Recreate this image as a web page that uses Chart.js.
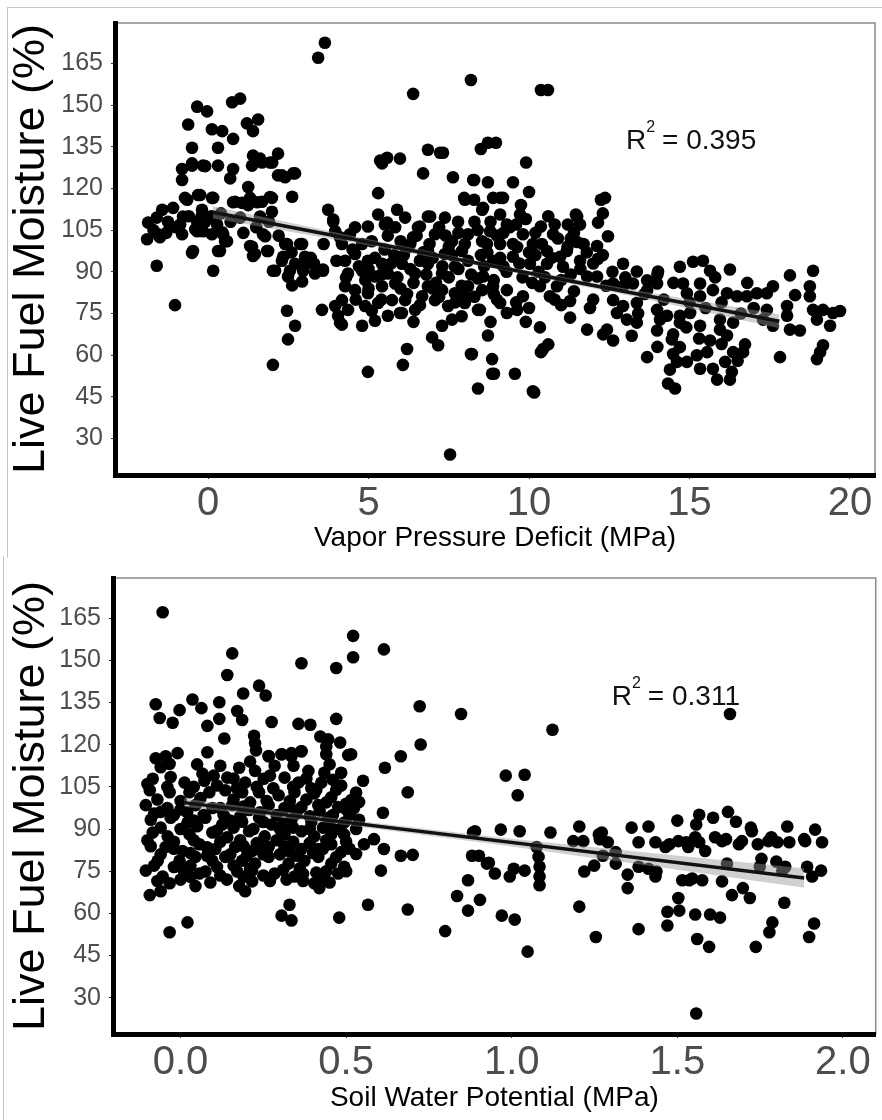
<!DOCTYPE html>
<html>
<head>
<meta charset="utf-8">
<script src="https://cdn.jsdelivr.net/npm/chart.js@4.4.1/dist/chart.umd.min.js"></script>
<style>
  body { margin:0; background:#fff; width:882px; height:1120px; position:relative; overflow:hidden; }
  canvas { position:absolute; left:0; }
  #topChart { top:0; }
  #bottomChart { top:555px; }
  .frameTop { position:absolute; left:7px; top:7px; width:875px; height:550px; border-left:1px solid #c6c6c6; border-top:1px solid #c6c6c6; }
  .frameBottom { position:absolute; left:3px; top:556px; width:1px; height:564px; background:#c6c6c6; }
</style>
</head>
<body>
<div class="frameTop"></div>
<div class="frameBottom"></div>
<canvas id="topChart" width="882" height="555"></canvas>
<canvas id="bottomChart" width="882" height="565"></canvas>
<script>
// tick labels
const lfmTicks = [30, 45, 60, 75, 90, 105, 120, 135, 150, 165];
const vpdTicks = [0, 5, 10, 15, 20];
const swpTicks = [0, 0.5, 1, 1.5, 2];

// vapor pressure deficit vs live fuel moisture, [vpd, lfm]
const vpdPoints = [
  [-1.9,101.7],[-1.87,107.7],[-1.6,109.5],[-1.43,112.3],[-1.5,102.4],[-1.6,92.2],[-1.09,113],[-1.25,108],[-0.87,107],[-0.81,103.5],
  [-1.03,78],[-0.78,109.9],[-0.65,115.9],[-0.81,123],[-0.81,127],[-0.5,134.6],[-0.62,143],[-0.34,149.4],[-0.47,97.5],[-0.5,129],
  [-0.34,108],[-0.34,104.6],[-0.25,117.6],[-0.19,112.3],[-0.09,128],[-0.03,147.7],[-0.16,104.6],[-0.5,96.8],
  [-1.56,103.5],[-0.4,105.3],[-0.09,108],[0.12,103.5],[0.44,104.2],[-0.72,116.6],[-0.31,117.6],[0.12,116.6],[-0.5,128.2],[-0.16,128.2],
  [0.31,128.2],[1.37,128.2],[1.68,129.3],[2.0,129.3],[2.3,124.7],[2.71,125.4],[1.31,116.6],[1.06,114.8],[0.84,115.2],[1.68,115.2],[1.93,116.9],
  [0.12,141.3],[0.16,90.4],[0.31,134.6],[0.44,140.6],[0.16,116.6],[0.28,107],[0.37,97.5],[0.47,103.5],[0.59,101],[0.69,123.6],
  [0.78,127],[0.75,151],[1.0,152.3],[0.78,137.8],[0.78,115],[1.0,109.5],[1.21,143.4],[1.4,140.6],[1.56,144.8],[1.25,120.5],
  [1.4,131.8],[1.62,130.7],[1.25,114],[1.53,115],[1.62,109.9],[1.37,99],[1.4,95.7],[1.71,103.5],[1.84,97.5],[1.93,129.3],
  [1.99,116.6],[1.99,111.6],[2.18,132.5],[2.18,124.7],[2.4,124],[2.65,125.4],[2.62,117],[2.02,90.4],[2.34,95.4],[2.55,90.4],
  [2.96,90.4],[2.87,100],[2.46,100],[3.58,90.4],[3.74,112.3],[3.9,108.8],[3.43,167],[3.64,172.4],[2.46,76],[2.71,70.6],
  [2.49,65.7],[2.02,56.5],[3.55,76.3],[0.31,97.5],[0.53,101],
  [1.31,99.3],[1.46,96.4],[1.87,97.5],[2.4,100],[2.93,100],[2.09,90.4],[2.49,88.3],[2.62,85.1],[2.93,86.5],[3.33,89.4],
  [3.58,90.8],[3.02,95.4],[1.78,102.8],[2.71,92.9],[2.3,94],[3.9,108],
  [-1.7,105],[-1.3,104],[-1.0,106],[-0.6,110],[-0.2,110],[0.1,110],[0.4,111],[0.7,108],[1.1,104],[1.5,106],
  [1.9,108],[2.2,103],[2.6,97],[3.0,92],[3.3,93],
  [4.58,106],[4.98,106.3],[5.3,118.3],[5.3,110.6],[5.42,129],[5.98,130.7],[5.89,112.3],[6.14,109.5],[5.51,107],[5.83,106],
  [6.7,125.4],[7.63,124],[8.26,123],[8.0,115.9],[8.54,112.3],[6.85,109.9],[7.38,109.5],[7.79,108],[6.54,106],[7.07,103.5],
  [7.6,101],[8.1,103.5],[8.54,101],
  [4.27,94],[4.58,96.4],[4.98,94],[5.42,92.9],[4.36,89.4],[4.8,90.4],[5.2,88.3],[5.6,89.4],[4.27,84.8],[4.58,83.4],
  [4.98,82.3],[5.42,84.8],[5.83,85.8],[4.17,79.8],[4.36,76.3],[4.05,74.2],[4.17,71],[4.8,70.6],[5.2,72.4],[5.6,74.2],
  [6.04,75.2],[6.45,76.3],[6.14,79.8],[5.73,79.8],[5.3,78.8],[4.89,77.7],[6.04,92.9],[6.45,89.4],[6.85,92.9],[7.29,89.4],
  [7.69,91.8],[6.85,84.8],[7.29,83.4],[7.69,82.3],[8.1,84.8],[8.54,83.4],[8.0,78.8],[8.41,76.3],[7.48,77.7],[7.07,79.8],
  [6.67,81.2],[7.29,70.6],[7.6,72.8],[6.98,66.4],[7.17,63.6],[6.2,62.2],[6.07,56.5],[4.98,54],[8.22,60.4],[8.41,48],
  [8.72,67.1],[8.85,58.6],[8.85,53.3],[8.41,87.6],[6.85,97.5],[7.38,96.4],[7.91,97.5],[6.23,98.9],[4.17,100],[3.96,104.6],
  [3.96,77.7],[4.11,71.7],[5.98,75.2],
  [6.39,154],[6.85,133.9],[7.23,132.8],[5.36,130],[5.58,131],[5.58,107.7],[4.42,103.5],[4.11,102.4],[6.92,109.9],[6.6,106.3],[6.39,102.4],
  [8.19,159],[10.37,155.4],[10.59,155.4],[8.5,134.2],[8.72,136.4],[8.97,136.4],[7.32,132.8],[9.91,129.3],[8.29,123],[8.72,122.2],
  [9.5,122.2],[10.0,118.7],[7.98,116.6],[8.29,115.9],[8.88,116.6],[9.19,116.6],[9.75,114],[12.24,115.9],[12.15,107.7],[12.46,102.8],
  [11.46,110.6],[11.21,107],[10.37,106.3],
  [9.1,116.6],[8.57,113],[9.1,110.6],[9.72,110.6],[9.31,107],[8.79,104.6],[9.81,103.5],[10.75,103.5],[11.5,109.9],[11.59,107],
  [12.37,116.6],[12.12,99.3],[12.15,94.7],[11.5,100.7],[11.18,97.5],[11.59,94],[10.97,95.4],[10.56,97.5],[10.12,100],[9.63,98.9],
  [9.1,100],[8.69,100],[8.88,94],[9.5,95.4],[10.03,92.9],[10.56,92.9],[11.06,91.8],[11.81,88.3],[12.12,88.3],[8.57,88.3],
  [8.88,84.8],[9.31,83.4],[9.81,81.2],[10.34,84.8],[10.65,81.2],[10.87,84.8],[11.28,79.5],[11.9,77],[11.28,73.5],[11.81,69.2],
  [10.34,70],[10.44,62.2],[10.6,63.9],[9.56,53.3],[10.12,47],[9.31,75.2],[9.63,76.3],[9.1,78.8],[8.47,76.3],[8.19,60.4],
  [12.93,92.9],[13.36,90.1],[13.68,86.9],[14.02,90.1],[14.7,91.8],[15.11,93.6],[15.42,94],[15.64,90.4],[16.26,90.8],[12.62,85.8],
  [12.93,84.8],[13.24,85.8],[13.68,83.4],[13.99,85.8],[14.8,85.8],[15.33,85.8],[15.73,83.4],[16.17,82.3],[16.48,81.2],[16.79,81.2],
  [17.1,82.3],[17.41,82.3],[17.6,84.8],[14.92,82.3],[15.33,81.2],[12.62,79.8],[12.93,77.7],[13.36,78.8],[12.74,75.2],[13.05,72.8],
  [13.36,71.7],[12.43,69.2],[12.62,65.3],[12.31,67.5],[13.99,76.3],[14.3,74.2],[14.7,74.2],[15.02,75.2],[14.08,72.8],[14.7,71.7],
  [13.99,68.9],[14.49,67.5],[15.33,70.6],[15.95,72.8],[15.95,69.2],[16.17,67.1],[16.36,71.7],[13.68,59.3],[14.45,65.7],[14.49,60.4],
  [14.7,62.9],[14.92,57.6],[14.61,57.6],[14.39,54.8],[14.33,49.8],[14.55,48],[15.23,60],[15.55,61.1],[15.64,65.3],[15.33,55.1],
  [15.73,55.1],[15.86,51.2],[16.26,51.2],[16.32,54],[16.11,57.6],[16.36,61.1],[16.67,61.1],[16.73,63.9],[17.41,76.3],[17.29,72.8],
  [17.6,70.6],[18.04,74.2],[18.13,88.7],[18.29,81.6],[18.04,77.7],[17.82,59.3],[18.13,69.2],[18.44,68.9],[18.75,84.8],[18.85,90.4],
  [18.75,81.2],[18.85,76.3],[18.97,72.8],[19.16,76.3],[19.38,70.6],[19.47,75.2],[19.69,75.9],[19.16,63.6],[19.07,61.1],[18.97,58.6],
  [7.54,24.3],[8.91,53.3],[10.16,46.6],[10.37,61.1],
  [4.5,98],[4.7,92],[4.9,87],[5.1,101],[5.2,95],[5.4,89],[5.5,98],[5.7,93],[5.9,88],[6.0,101],
  [6.1,96],[6.3,91],[6.4,86],[6.5,103],[6.6,94],[6.8,89],[6.9,100],[7.0,95],[7.1,86],[7.3,92],
  [7.4,103],[7.5,88],[7.6,96],[7.8,91],[7.9,85],[8.0,100],[8.1,94],[8.2,89],[8.4,105],[8.5,96],
  [8.6,92],[8.8,108],[8.9,87],[9.0,103],[9.1,95],[9.3,90],[9.4,106],[9.5,100],[9.7,93],[9.8,88],
  [9.9,109],[10.0,97],[10.2,104],[10.3,90],[10.4,100],[10.6,110],[10.7,95],[10.9,102],[11.0,87],[11.2,99],
  [11.4,104],[11.6,91],[11.8,97],[12.0,93],[12.3,96],[12.6,90],[3.2,95],[3.6,100],[4.0,94],[4.3,88],
  [4.6,80],[5.0,84],[5.4,80],[6.2,82],[6.6,78],[7.2,81],[7.7,79],[8.3,81],[8.9,82],[9.6,79],
  [10.1,86],[10.8,80],[11.4,83],[12.0,80],[13.0,88],[13.6,82],[14.2,80],[14.5,86],[15.0,79],[15.5,77],
  [16.0,79],[16.6,75],[17.0,77],[16.8,86],[15.8,88],[14.0,89],[13.4,75],[15.3,66],[16.0,64],[14.9,70],
  [16.5,58],[14.0,63],[13.2,67],
  [4.8,100],[5.6,103],[6.3,100],[7.2,106],[7.8,104],[8.3,108],[9.2,104],[9.6,107],[10.2,96],[10.8,107],
  [11.3,102],[11.7,100],[12.3,111],[5.0,91],[5.8,96],[6.7,97],[7.5,99],[8.7,97],[9.2,92],[10.5,88],
  [11.3,89],[12.4,85],[6.0,84],[7.0,84],[8.0,81],[9.0,80],[5.1,76],[7.9,74],[8.8,72],[10.0,77],
  [11.0,78],[6.4,72],[9.9,72]
];

// soil water potential vs live fuel moisture, [swp, lfm]
const swpPoints = [
  [-0.054,167.1],[-0.075,134.4],[-0.063,129.5],[-0.024,127.8],[-0.003,132.3],[0.036,136.1],[0.063,133],[0.081,126.7],[0.081,117.3],[0.117,135.1],
  [0.117,129.2],[0.132,122.2],[0.141,144.8],[0.156,152.5],[0.171,132],[0.186,128.8],[0.189,138.2],[0.237,141],[0.257,137.5],[0.275,128.1],
  [0.222,123.2],[0.228,118],[0.266,115.9],[0.305,116.6],[0.335,115.9],[0.356,127.4],[0.365,117.7],[0.365,149],[0.392,127.1],[0.422,122.9],
  [0.44,119.4],[0.47,147.3],[0.47,129.2],[0.482,120.8],[0.521,158.7],[0.521,151.1],[0.506,116.3],[0.551,107.2],[0.614,153.9],[0.617,111.8],
  [0.665,115.9],[0.686,103.1],[0.722,133.7],[0.725,120.1],[0.611,95.8],[0.446,121.9],[0.44,116.6],
  [0.847,130.9],[1.123,125.3],[0.982,109],[1.039,109.3],[1.018,102],[1.659,130.9],
  [0.605,75.2],[0.665,80.5],[0.701,80.8],[0.883,88.8],[0.88,80.5],[0.925,77.7],[0.868,71.8],[0.835,66.2],[0.868,61],[0.904,64.8],
  [0.799,53.7],[0.686,61.4],[0.566,63.1],[0.479,58.5],[0.335,57.5],[0.305,59.2],[0.329,63.1],[0.021,56.8],[-0.033,53.3],[0.53,81.1],
  [0.554,84.6],[0.584,86.4],[0.614,82.9],
  [0.889,89.2],[0.967,89.8],[1.024,89.2],[1.117,88.8],[1.204,90.9],[1.272,88.8],[1.362,90.5],[1.413,90.9],[1.5,93],[1.566,95.1],
  [1.557,91.6],[1.608,94],[1.653,96.1],[1.677,92.6],[1.722,90.5],[1.832,90.9],[1.916,89.8],
  [1.186,85.7],[1.216,85.7],[1.263,88.1],[1.29,85.3],[1.383,85.3],[1.434,85.3],[1.464,83.6],[1.503,85.7],[1.533,83.6],[1.554,87.1],
  [1.584,82.2],[1.614,87.1],[1.635,85.7],[1.695,85.7],[1.725,89.2],[1.743,84.6],[1.754,79.4],[1.784,87.1],[1.802,85.3],[1.838,85.3],
  [1.883,86.4],[1.937,85.3],[1.892,76.6],[1.934,75.2],[1.907,73.1],[1.799,78.4],[1.817,75.2],[1.749,76.6],[1.65,77.7],[1.635,71.4],
  [1.665,66.5],[1.698,69],[1.719,65.5],[1.823,63.8],[1.787,56.8],[1.778,53.3],[1.913,56.4],[1.898,51.6],
  [1.545,72.4],[1.515,71.8],[1.575,71.8],[1.434,73.1],[1.413,75.9],[1.35,73.8],[1.35,69],[1.383,76.6],[1.503,65.5],[1.47,60.6],
  [1.506,61],[1.47,55.7],[1.554,59.6],[1.599,59.6],[1.629,58.5],[1.383,54.4],[1.204,62.4],[1.219,74.9],[1.249,77],[1.275,80.5],
  [1.314,81.8],[1.314,77.7],[1.084,70],[1.084,73.1],[1.084,76.6],[1.081,80.1],[1.075,83.6],[1.039,75.2],[1.006,75.9],[0.994,73.1],
  [0.949,74.2],[0.931,78],[0.901,80.5],[0.97,59.2],[1.009,57.8],[1.254,51.6],[1.56,50.9],
  [1.048,46.4],[1.596,48.1],[1.737,48.1],[1.557,24.4],[1.826,76.6],[1.536,71.8],[1.437,74.9],[1.266,86.4],[1.476,84.6],[1.527,85.3],
  [1.566,85.3],[1.647,86.4],[1.686,84.6],[1.775,85.7],[1.886,85.7],
  [-0.075,115.2],[-0.045,115.9],[-0.009,117],[0.225,120.5],[0.266,116],[0.305,116.6],[0.335,117],[0.365,117.7],[0.515,116.6],
  [-0.033,113.2],[0.066,109.7],[0.177,111.8],[0.225,110.7],[0.284,112.5],[0.341,112.5],[0.386,110.7],[0.434,110],[0.485,110],
  [-0.084,107.9],[0.012,106.5],[0.072,107.2],[0.141,108.3],[0.195,106.5],[0.251,107.9],[0.314,108.3],[0.356,106.5],[0.395,104.5],[0.425,106.5],[0.485,105.5],
  [-0.093,103.8],[-0.033,103.1],[0.027,103.1],[0.087,103.1],[0.135,103.8],[0.186,103.1],[0.237,103.1],[0.296,102],[0.344,103.1],[0.404,102.7],[0.455,101.3],[0.515,100.3],[0.539,99.6],
  [-0.105,98.5],[-0.06,96.1],[0.045,98.5],[0.096,97.5],[0.156,98.5],[0.207,96.8],[0.266,98.5],[0.314,97.5],[0.365,97.8],[0.416,98.5],[0.476,97.8],[0.524,97.5],
  [-0.09,93.3],[-0.03,94],[0.021,92.3],[0.075,94],[0.126,91.6],[0.186,92.6],[0.237,94],[0.275,91.6],[0.335,93.3],[0.395,92.6],[0.446,94],[0.494,92.3],[0.539,93.3],
  [-0.084,88.8],[-0.039,87.4],[0.027,88.1],[0.096,88.8],[0.141,87.1],[0.207,89.2],[0.254,87.4],[0.314,88.1],[0.365,89.2],[0.404,87.4],[0.455,88.1],[0.494,88.1],
  [-0.09,83.9],[-0.045,83.6],[0.006,82.2],[0.057,84.6],[0.105,82.9],[0.165,83.6],[0.216,82.2],[0.266,83.6],[0.314,83.9],[0.365,82.9],[0.416,82.9],[0.455,84.6],[0.485,81.8],
  [-0.069,78.7],[-0.003,78.7],[0.045,80.1],[0.096,78.7],[0.135,80.1],[0.186,78.7],[0.225,77.7],[0.266,80.1],[0.326,77.7],[0.374,78.7],[0.416,80.1],[0.455,77.7],[0.494,76.6],
  [-0.105,75.2],[-0.054,73.1],[0.006,75.9],[0.057,74.2],[0.075,74.9],[0.171,74.9],[0.216,75.2],[0.284,74.2],[0.344,73.1],[0.434,72.4],[0.476,74.2],
  [-0.093,66.5],[-0.06,67.9],[-0.033,70.7],[0.045,69.7],[0.177,69.7],[0.195,67.9],[0.216,71.4],[0.404,70.7],[0.419,69],
  [-0.06,112],[0.05,113],[0.12,112.5],[0.21,114],[0.45,113],
  [-0.1,106],[-0.04,105],[0.04,105],[0.11,105.5],[0.17,104.5],[0.23,105],[0.28,104.5],[0.34,105],[0.41,104],[0.47,104],[0.53,103],
  [-0.07,100.5],[0.0,100],[0.06,101],[0.16,100.5],[0.21,99.5],[0.26,100],[0.33,100],[0.38,100.5],[0.44,99.5],[0.5,99],
  [-0.08,95.5],[-0.02,95],[0.02,96],[0.07,95],[0.13,95],[0.18,94.5],[0.24,96],[0.29,95],[0.35,95.5],[0.39,94.5],[0.46,95],[0.51,95],
  [-0.06,90.5],[0.0,90],[0.05,91],[0.11,89.5],[0.16,90.5],[0.22,90],[0.3,90],[0.34,90.5],[0.39,90],[0.43,90.5],[0.48,90],[0.53,90],
  [-0.1,86],[-0.02,85.5],[0.04,86],[0.12,85.5],[0.18,86],[0.23,85],[0.29,86],[0.34,85.5],[0.39,85],[0.44,86],[0.5,85.5],
  [-0.06,81],[0.03,81.5],[0.08,80.5],[0.15,81],[0.2,80.5],[0.25,81],[0.3,81],[0.35,80.5],[0.4,81.5],[0.47,80],
  [-0.08,77],[-0.02,76.5],[0.03,77],[0.11,76.5],[0.16,77],[0.21,76],[0.31,75.5],[0.36,76],[0.44,75],[0.5,75],
  [-0.07,71.5],[0.0,72],[0.09,71],[0.14,72],[0.27,71.5],[0.32,72],[0.37,71.5],[0.45,71],
  [-0.03,108.5],[0.1,109],[0.16,108],[0.27,109],[0.38,108],[0.46,107.5],
  [-0.04,97.5],[0.0,97],[0.12,97.5],[0.19,98],[0.33,98],[0.42,96.5],[0.5,97],
  [0.04,93],[0.15,93],[0.25,92.5],[0.31,92],[0.45,91.5],
  [-0.02,83],[0.08,83.5],[0.19,84],[0.24,83.5],[0.33,82],[0.43,83],[0.51,83],
  [0.03,73],[0.12,73.5],[0.19,73],[0.25,73.5],[0.37,74],[0.41,74.5]
];

// fitted lines and their confidence bands
const vpdFitX = [0.15, 17.8];
const vpdFitY = [111.4, 72.2];
const vpdBandX = [0.15, 4.5, 8.9, 13.3, 17.8];
const vpdBandLow = [109.2, 100.5, 91.2, 81.0, 69.7];
const vpdBandHigh = [113.6, 102.9, 92.8, 83.4, 74.7];

const swpFitX = [0.01, 1.883];
const swpFitY = [99.4, 72.6];
const swpBandX = [0.01, 0.48, 0.95, 1.42, 1.883];
const swpBandLow = [97.9, 91.7, 84.6, 76.9, 69.1];
const swpBandHigh = [100.9, 93.7, 87.2, 81.5, 76.1];

const r2Labels = ["0.395", "0.311"];

const fontFam = '"Liberation Sans", Arial, sans-serif';

const pairs = (xs, ys) => xs.map((x, i) => ({x: x, y: ys[i]}));

const frameBox = {
  id: "frameBox",
  beforeDraw(chart) {
    const a = chart.chartArea, ctx = chart.ctx;
    ctx.save();
    ctx.strokeStyle = "#8a8a8a";
    ctx.lineWidth = 1.5;
    ctx.strokeRect(a.left, a.top, a.right - a.left, a.bottom - a.top);
    ctx.restore();
  }
};

const r2Text = {
  id: "r2Text",
  afterDatasetsDraw(chart, args, opts) {
    const ctx = chart.ctx;
    const px = chart.scales.x.getPixelForValue(opts.x);
    const py = chart.scales.y.getPixelForValue(opts.y);
    ctx.save();
    ctx.fillStyle = "#111";
    ctx.textAlign = "left";
    ctx.textBaseline = "alphabetic";
    ctx.font = "28px " + fontFam;
    ctx.fillText("R", px, py);
    let w = ctx.measureText("R").width;
    ctx.font = "16px " + fontFam;
    ctx.fillText("2", px + w, py - 17);
    w += ctx.measureText("2").width + 7;
    ctx.font = "28px " + fontFam;
    ctx.fillText("= " + opts.value, px + w, py);
    ctx.restore();
  }
};

function makePanel(id, cfg) {
  const ctx = document.getElementById(id).getContext("2d");
  return new Chart(ctx, {
    type: "scatter",
    data: {
      datasets: [
        {
          type: "line",
          data: pairs(cfg.fitX, cfg.fitY),
          borderColor: "#111",
          borderWidth: 3.5,
          pointRadius: 0,
          fill: false,
          order: 0
        },
        {
          type: "line",
          data: pairs(cfg.bandX, cfg.bandHigh),
          borderWidth: 0,
          borderColor: "rgba(0,0,0,0)",
          backgroundColor: "rgba(150,150,150,0.45)",
          pointRadius: 0,
          fill: "+1",
          order: 1
        },
        {
          type: "line",
          data: pairs(cfg.bandX, cfg.bandLow),
          borderWidth: 0,
          borderColor: "rgba(0,0,0,0)",
          pointRadius: 0,
          fill: false,
          order: 2
        },
        {
          data: cfg.points.map(p => ({x: p[0], y: p[1]})),
          pointRadius: 6.3,
          pointBackgroundColor: "#000",
          pointBorderWidth: 0,
          order: 3
        }
      ]
    },
    options: {
      responsive: false,
      animation: false,
      layout: { padding: cfg.padding },
      plugins: {
        legend: { display: false },
        tooltip: { enabled: false },
        r2Text: { x: cfg.r2x, y: cfg.r2y, value: cfg.r2 }
      },
      scales: {
        x: {
          type: "linear",
          min: cfg.xMin,
          max: cfg.xMax,
          afterBuildTicks: s => { s.ticks = cfg.xTicks.map(v => ({value: v})); },
          afterFit: s => { s.height = cfg.xHeight; },
          grid: { display: true, drawOnChartArea: false, drawTicks: true, tickLength: 4, color: "#333", lineWidth: 1 },
          border: { display: true, color: "#000", width: 5 },
          ticks: {
            color: "#4d4d4d",
            font: { size: 40, family: fontFam },
            padding: 1,
            maxRotation: 0,
            autoSkip: false,
            callback: cfg.xFmt
          },
          title: {
            display: true,
            text: cfg.xTitle,
            color: "#000",
            font: { size: 28, family: fontFam },
            padding: { top: 0, bottom: cfg.xTitlePad }
          }
        },
        y: {
          type: "linear",
          min: cfg.yMin,
          max: cfg.yMax,
          afterBuildTicks: s => { s.ticks = lfmTicks.map(v => ({value: v})); },
          afterFit: s => { s.width = cfg.yWidth; },
          grid: { display: true, drawOnChartArea: false, drawTicks: true, tickLength: 4, color: "#333", lineWidth: 1 },
          border: { display: true, color: "#000", width: 5 },
          ticks: {
            color: "#4d4d4d",
            font: { size: 25, family: fontFam },
            padding: 8
          },
          title: {
            display: true,
            text: "Live Fuel Moisture (%)",
            color: "#000",
            font: { size: 45, family: fontFam },
            padding: { top: 5, bottom: 0 }
          }
        }
      }
    },
    plugins: [frameBox, r2Text]
  });
}

makePanel("topChart", {
  points: vpdPoints,
  fitX: vpdFitX, fitY: vpdFitY,
  bandX: vpdBandX, bandLow: vpdBandLow, bandHigh: vpdBandHigh,
  xMin: -2.9, xMax: 20.78, yMin: 16.9, yMax: 179.5,
  xTicks: vpdTicks,
  xFmt: v => String(v),
  xTitle: "Vapor Pressure Deficit (MPa)",
  xTitlePad: 0,
  xHeight: 80, yWidth: 115,
  padding: { top: 16, right: 7, left: 0, bottom: 0 },
  r2x: 13.02, r2y: 134.2, r2: r2Labels[0]
});

makePanel("bottomChart", {
  points: swpPoints,
  fitX: swpFitX, fitY: swpFitY,
  bandX: swpBandX, bandLow: swpBandLow, bandHigh: swpBandHigh,
  xMin: -0.204, xMax: 2.099, yMin: 17.1, yMax: 179.3,
  xTicks: swpTicks,
  xFmt: v => Number(v).toFixed(1),
  xTitle: "Soil Water Potential (MPa)",
  xTitlePad: 5,
  xHeight: 86, yWidth: 113,
  padding: { top: 13, right: 0, left: 0, bottom: 0 },
  r2x: 1.302, r2y: 134.0, r2: r2Labels[1]
});
</script>
</body>
</html>
